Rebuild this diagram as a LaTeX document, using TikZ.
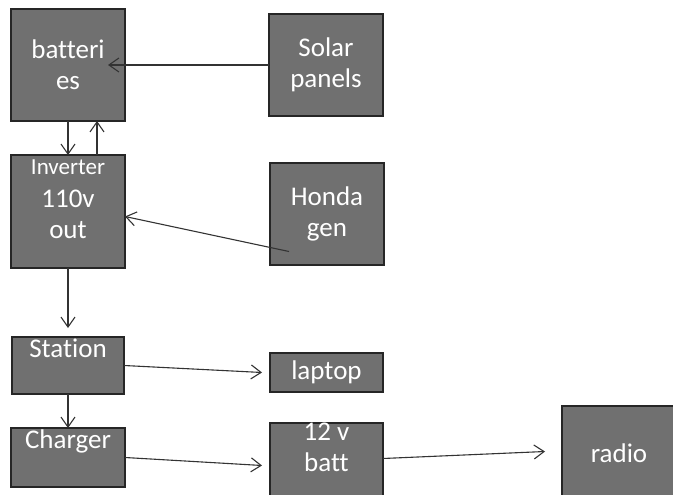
\documentclass[tikz,border=0pt]{standalone}
\usepackage{fontspec}
\setmainfont[Ligatures=NoCommon]{Carlito}
\usetikzlibrary{arrows.meta,positioning}
\definecolor{boxgray}{RGB}{112,112,112}

\begin{document}
\begin{tikzpicture}[x=1pt, y=-1pt,
    block/.style={rectangle, draw=black!85, line width=2pt, fill=boxgray, text=white, align=center, inner sep=0pt, outer sep=0pt, minimum width=114pt, font=\fontsize{27}{31}\selectfont},
    conn/.style={-{Straight Barb[length=10pt,width=14pt]}, draw=black!80, line width=1.1pt}]
    \useasboundingbox (0,0) rectangle (673,495);
    \clip (0,0) rectangle (673,495);

    % Nodes
    \node (batt) [block, minimum height=112pt] at (68,65) {batteri\\es};
    \node (solar) [block, minimum height=102pt, right=144pt of batt] {Solar\\panels};

    \node (inv) [block, minimum height=113pt, text depth=25pt, below=34pt of batt] {{\fontsize{23}{24}\selectfont Inverter}\\[2pt]110v\\out};
    \node (honda) [block, minimum height=102pt, yshift=-2pt, right=145pt of inv] {Honda\\gen};

    \node (station) [block, minimum width=112pt, minimum height=57pt, text depth=34pt, below=69pt of inv] {Station};
    \node (laptop) [block, minimum width=113pt, minimum height=39pt, yshift=-7pt, right=146pt of station] {laptop};

    \node (charger) [block, minimum height=59pt, text depth=37pt, below=34pt of station] {Charger};
    \node (tvbatt) [block, minimum width=113pt, minimum height=80pt, text depth=36pt, yshift=-8pt, right=145pt of charger] {12 v\\batt};
    \node (radio) [block, minimum height=100pt, text depth=5pt, yshift=10pt, right=179pt of tvbatt] {radio};

    % Arrows
    \draw [conn] (solar.west) -- ([xshift=-17pt]batt.east);
    \draw [conn] (batt.south) -- (inv.north);
    \draw [conn] ([xshift=29pt]inv.north) -- ([xshift=29pt]batt.south);
    \draw [conn] ([xshift=19pt,yshift=13pt]honda.south west) -- ([yshift=-5pt]inv.east);
    \draw [conn, shorten >=9pt] (inv.south) -- (inv.south |- station.north);
    \draw [conn] (station.east) -- ([xshift=-8pt]laptop.west);
    \draw [conn] (station.south) -- (station.south |- charger.north);
    \draw [conn] (charger.east) -- ([xshift=-8pt]tvbatt.west);
    \draw [conn] ([yshift=7pt]tvbatt.east) -- ([xshift=-17pt,yshift=4pt]radio.west);
\end{tikzpicture}
\end{document}
